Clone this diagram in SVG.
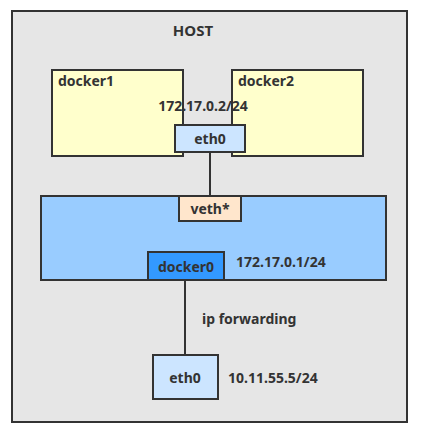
<svg xmlns="http://www.w3.org/2000/svg" width="426" height="432" viewBox="0 0 426 432">
<style>
.box{stroke:#333;stroke-width:2}
text{font-family:"Noto Sans","Liberation Sans",sans-serif;font-weight:bold;font-size:14px;fill:#333}
.c{text-anchor:middle;dominant-baseline:central}
.conn{stroke:#333;stroke-width:2;fill:none}
</style>
<rect width="426" height="432" fill="#fff"/>
<g id="host">
<rect class="box" x="12" y="11" width="395" height="411" fill="#E6E6E6"/>
<text class="c" x="193" y="30" style="font-size:15px">HOST</text>
</g>
<g id="docker1">
<rect class="box" x="52" y="70" width="131" height="86" fill="#FFFFCC"/>
<text x="58" y="80" dominant-baseline="central">docker1</text>
</g>
<g id="docker2">
<rect class="box" x="232" y="70" width="131" height="86" fill="#FFFFCC"/>
<text x="238" y="80" dominant-baseline="central">docker2</text>
</g>
<g id="ip1">
<text class="c" x="203" y="105">172.17.0.2/24</text>
</g>
<g id="eth0-container">
<rect class="box" x="175" y="125" width="70" height="27" fill="#CCE5FF"/>
<text class="c" x="210" y="138">eth0</text>
</g>
<g id="bridge">
<rect class="box" x="41" y="196" width="345" height="84" fill="#99CCFF"/>
</g>
<g id="veth">
<rect class="box" x="179" y="196" width="62" height="25" fill="#FFE6CC"/>
<text class="c" x="210" y="208">veth*</text>
</g>
<g id="docker0">
<rect class="box" x="148" y="252" width="76" height="28" fill="#3399FF"/>
<text class="c" x="186" y="266">docker0</text>
</g>
<g id="ip2">
<text x="236" y="261" dominant-baseline="central">172.17.0.1/24</text>
</g>
<g id="eth0-host">
<rect class="box" x="153" y="355" width="65" height="44" fill="#CCE5FF"/>
<text class="c" x="185" y="377">eth0</text>
</g>
<g id="ip3">
<text x="228" y="377" dominant-baseline="central">10.11.55.5/24</text>
</g>
<g id="connectors">
<line class="conn" x1="210" y1="152" x2="210" y2="196"/>
<line class="conn" x1="185" y1="281" x2="185" y2="355"/>
<text x="202" y="318" dominant-baseline="central">ip forwarding</text>
</g>
</svg>
